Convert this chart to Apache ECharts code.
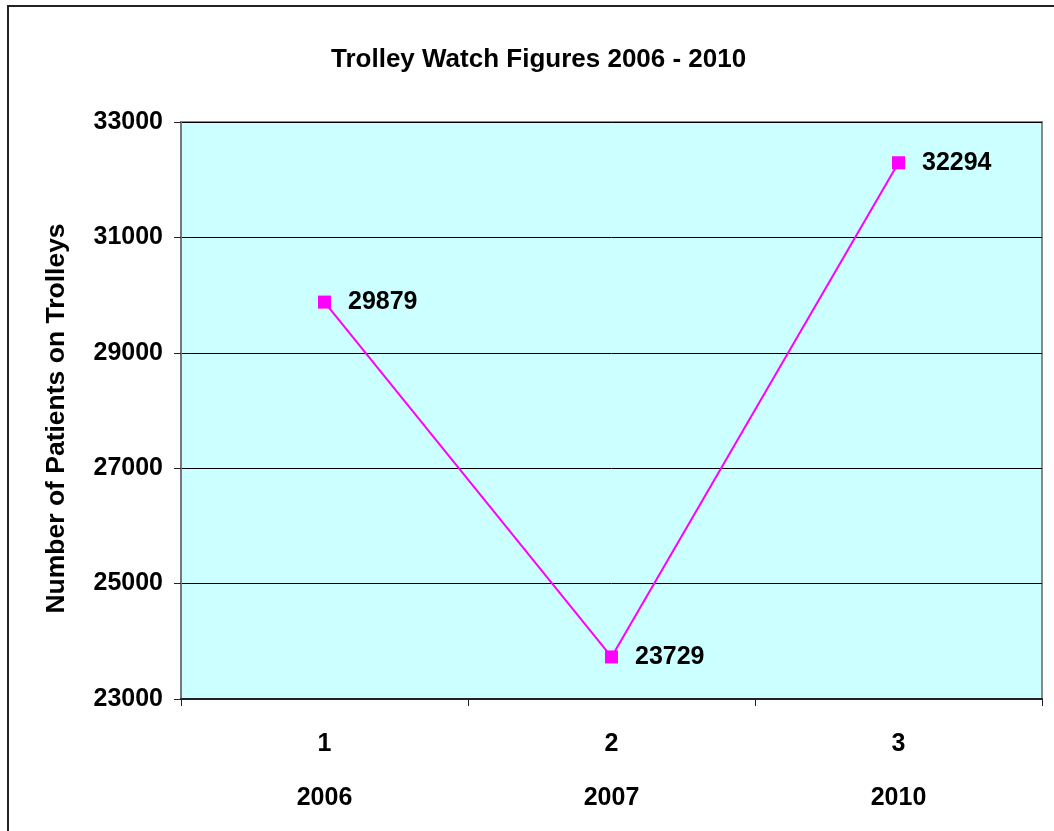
<!DOCTYPE html>
<html lang="en">
<head>
  <meta charset="UTF-8">
  <title>Trolley Watch</title>
  <style>
    html, body { margin: 0; padding: 0; background: #fff; }
    #main { width: 1054px; height: 831px; }
  </style>
</head>
<body>
  <div id="main"></div>
  <script src="https://cdn.jsdelivr.net/npm/echarts@6/dist/echarts.min.js"></script>
  <script type="text/javascript">
    // data
    var years = ['2006', '2007', '2010'];
    var patients = [29879, 23729, 32294];
    var yTicks = { min: 23000, max: 33000, step: 2000 };

    var font = 'Arial, "Liberation Sans", sans-serif';
    var chart = echarts.init(document.getElementById('main'));

    var option = {
      animation: false,
      title: {
        text: 'Trolley Watch Figures 2006 - 2010',
        left: 326,
        top: 42,
        textStyle: { fontFamily: font, fontSize: 26, fontWeight: 'bold', color: '#000' }
      },
      graphic: [{
        type: 'rect',
        shape: { x: 8, y: 6, width: 1200, height: 1000 },
        style: { fill: 'none', stroke: '#222', lineWidth: 2 }
      }],
      grid: {
        left: 181, top: 122, right: 12, bottom: 132,
        show: true,
        backgroundColor: '#CCFFFF',
        borderColor: '#888',
        borderWidth: 2
      },
      xAxis: {
        type: 'category',
        data: years,
        boundaryGap: true,
        axisLine: { lineStyle: { color: '#222', width: 2 } },
        axisTick: { show: true, length: 7, lineStyle: { color: '#222' } },
        axisLabel: {
          margin: 18,
          lineHeight: 54,
          fontFamily: font, fontSize: 25, fontWeight: 'bold', color: '#000',
          formatter: function (v, i) { return (i + 1) + '\n' + v; }
        }
      },
      yAxis: {
        type: 'value',
        min: yTicks.min,
        max: yTicks.max,
        interval: yTicks.step,
        name: 'Number of Patients on Trolleys',
        nameLocation: 'middle',
        nameGap: 111,
        nameTextStyle: {
          fontFamily: font, fontSize: 26.5, fontWeight: 'bold', color: '#000',
          padding: [0, 16, 0, 0]
        },
        axisLine: { show: true, lineStyle: { color: '#777', width: 2 } },
        axisTick: { show: true, length: 7, lineStyle: { color: '#222' } },
        axisLabel: {
          margin: 18, fontFamily: font, fontSize: 25, fontWeight: 'bold', color: '#000',
          formatter: function (v) { return String(v); }
        },
        splitLine: { lineStyle: { color: '#000', width: 1 } }
      },
      series: [{
        type: 'line',
        data: patients,
        symbol: 'rect',
        symbolSize: 13,
        lineStyle: { color: '#FF00FF', width: 2 },
        itemStyle: { color: '#FF00FF' },
        label: {
          show: true,
          position: 'right',
          distance: 17,
          fontFamily: font, fontSize: 25, fontWeight: 'bold', color: '#000'
        }
      }]
    };

    chart.setOption(option);
  </script>
</body>
</html>
